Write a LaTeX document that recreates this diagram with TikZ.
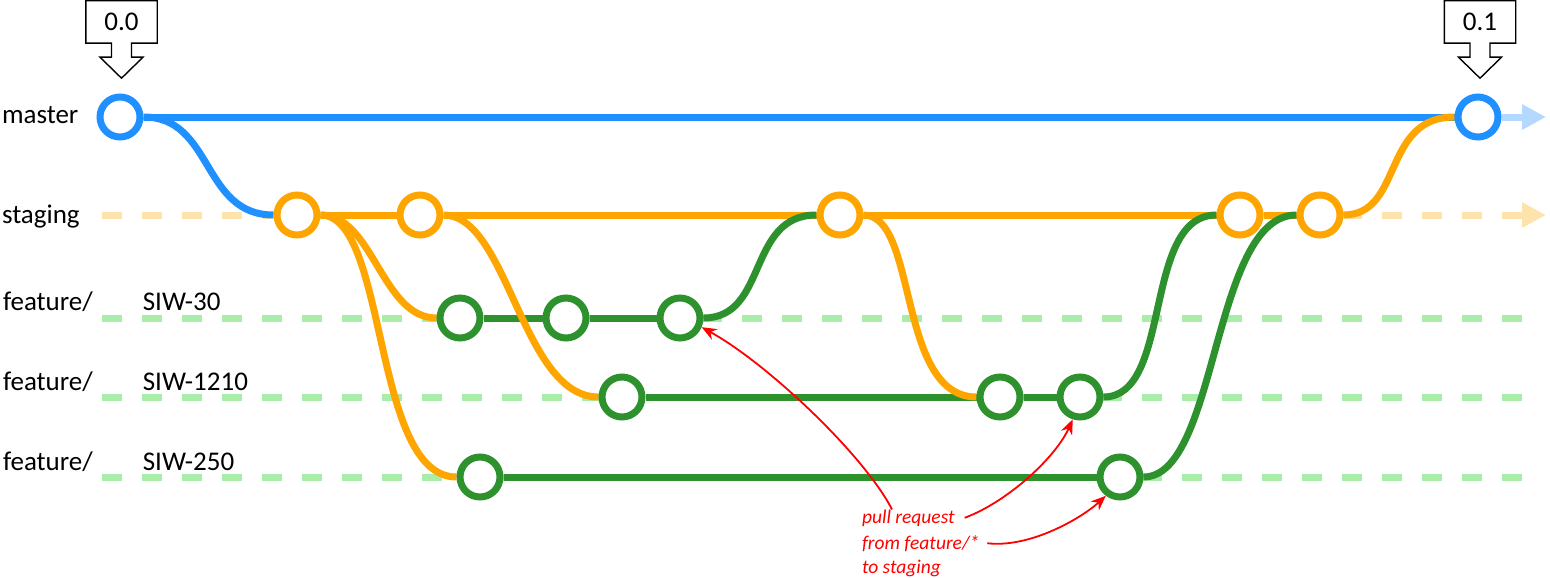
\documentclass[tikz,border=0pt]{standalone}
\usepackage{fontspec}
\setmainfont{Carlito}
\usetikzlibrary{calc, positioning, arrows.meta, backgrounds}

\definecolor{gitblue}{RGB}{30,144,255}
\definecolor{gitorange}{RGB}{255,165,0}
\definecolor{gitgreen}{RGB}{45,145,45}
\definecolor{laneblue}{RGB}{180,216,255}
\definecolor{laneorange}{RGB}{255,227,172}
\definecolor{lanegreen}{RGB}{168,238,168}
\definecolor{notered}{RGB}{255,0,0}

\tikzset{
    commit/.style={circle, minimum size=40pt, inner sep=0pt, line width=7pt, fill=white},
    commit_master/.style={commit, draw=gitblue},
    commit_staging/.style={commit, draw=gitorange},
    commit_feature/.style={commit, draw=gitgreen},
    branch_label/.style={anchor=base west, inner sep=0pt, outer sep=0pt, font=\fontsize{27}{31}\selectfont},
    tag_box/.style={rectangle, minimum width=71pt, minimum height=42pt, inner sep=0pt, font=\fontsize{27}{31}\selectfont},
    tag_line/.style={line width=1.4pt, line join=miter},
    master_line/.style={line width=7pt, draw=gitblue},
    staging_line/.style={line width=7pt, draw=gitorange},
    feature_line/.style={line width=7pt, draw=gitgreen},
    lane/.style={line width=7pt, dash pattern=on 20pt off 20pt},
    lane_arrow/.style={-{Triangle[length=24pt, width=24pt]}},
    note_text/.style={anchor=base west, inner sep=0pt, outer sep=0pt, text=notered, font=\fontsize{19.5}{24}\selectfont\itshape},
    note_arrow/.style={line width=1.8pt, draw=notered, -{Stealth[length=15pt, width=12pt]}},
}

\begin{document}
\begin{tikzpicture}[x=1pt, y=-1pt]
      \useasboundingbox (0,0) rectangle (1550,578);

      %%%%%%%%%%%%%%%%%%
      % Branch labels  %
      %%%%%%%%%%%%%%%%%%
      \node (lblmaster) [branch_label] at (2,123) {master};
      \node (lblstaging) [branch_label] at (2,223) {staging};
      \node (feat30) [branch_label] at (3,310) {feature/};
      \node (feat1210) [branch_label] at (3,390) {feature/};
      \node (feat250) [branch_label] at (3,470) {feature/};
      \node (siw30) [branch_label, right=50pt of feat30.base east, anchor=base west] {SIW-30};
      \node (siw1210) [branch_label, right=50pt of feat1210.base east, anchor=base west] {SIW-1210};
      \node (siw250) [branch_label, right=50pt of feat250.base east, anchor=base west] {SIW-250};

      %%%%%%%%%%%%%%%
      % Commits     %
      %%%%%%%%%%%%%%%
      \node (m0) [commit_master] at (120,117) {};
      \node (m1) [commit_master] at (1478,117) {};

      \node (s1) [commit_staging] at (297,215) {};
      \node (s2) [commit_staging] at (420,215) {};
      \node (s3) [commit_staging] at (840,215) {};
      \node (s4) [commit_staging] at (1240,215) {};
      \node (s5) [commit_staging] at (1320,215) {};

      \node (f30a) [commit_feature] at (460,318) {};
      \node (f30b) [commit_feature] at (566,318) {};
      \node (f30c) [commit_feature] at (680,318) {};

      \node (f1210a) [commit_feature] at (622,397) {};
      \node (f1210b) [commit_feature] at (1000,397) {};
      \node (f1210c) [commit_feature] at (1080,397) {};

      \node (f250a) [commit_feature] at (480,477) {};
      \node (f250b) [commit_feature] at (1120,477) {};

      \coordinate (staging_start) at (102,215);
      \coordinate (staging_end) at (1546,215);
      \coordinate (master_end) at (1546,117);
      \coordinate (lane30_start) at (102,318);
      \coordinate (lane30_end) at (1522,318);
      \coordinate (lane1210_start) at (102,397);
      \coordinate (lane1210_end) at (1522,397);
      \coordinate (lane250_start) at (102,477);
      \coordinate (lane250_end) at (1522,477);

      \begin{scope}[on background layer]
        % lanes
        \draw [lane, laneorange, lane_arrow] (staging_start) -- (staging_end);
        \draw [lane, lanegreen] (lane30_start) -- (lane30_end);
        \draw [lane, lanegreen] (lane1210_start) -- (lane1210_end);
        \draw [lane, lanegreen] (lane250_start) -- (lane250_end);
        \draw [line width=7pt, laneblue, lane_arrow] (m1.east) -- (master_end);

        % master
        \draw [master_line] (m0.east) -- (m1.west);
        \draw [master_line] (m0.east) .. controls +(70,0) and +(-72,0) .. (s1.west);

        % feature branches
        \draw [feature_line] (f30a.east) -- (f30b.west);
        \draw [feature_line] (f30b.east) -- (f30c.west);
        \draw [feature_line] (f1210a.east) -- (f1210b.west);
        \draw [feature_line] (f1210b.east) -- (f1210c.west);
        \draw [feature_line] (f250a.east) -- (f250b.west);

        % staging
        \draw [staging_line] (s1.east) -- (s2.west);
        \draw [staging_line] (s2.east) -- (s3.west);
        \draw [staging_line] (s3.east) -- (s4.west);
        \draw [staging_line] (s4.east) -- (s5.west);

        % branching off staging
        \draw [staging_line] (s1.east) .. controls +(53,0) and +(-55,0) .. (f30a.west);
        \draw [staging_line] (s1.east) .. controls +(68,0) and +(-85,0) .. (f250a.west);
        \draw [staging_line] (s2.east) .. controls +(65,0) and +(-77,0) .. (f1210a.west);
        \draw [staging_line] (s3.east) .. controls +(55,0) and +(-80,0) .. (f1210b.west);

        % merging into staging
        \draw [feature_line] (f30c.east) .. controls +(65,0) and +(-70,0) .. (s3.west);
        \draw [feature_line] (f1210c.east) .. controls +(70,0) and +(-75,0) .. (s4.west);
        \draw [feature_line] (f250b.east) .. controls +(75,0) and +(-85,0) .. (s5.west);

        % release
        \draw [staging_line] (s5.east) .. controls +(60,0) and +(-73,0) .. (m1.west);
      \end{scope}

      %%%%%%%%%%%%%%%
      % Version tags%
      %%%%%%%%%%%%%%%
      \node (ver00) [tag_box] at (121.5,22) {0.0};
      \draw [tag_line] ($(ver00.south)+(-10,0)$) -- (ver00.south west) -- (ver00.north west)
          -- (ver00.north east) -- (ver00.south east) -- ($(ver00.south)+(10,0)$)
          -- ++(0,14) -- ++(11.5,0) -- ++(-21.5,21) -- ++(-21.5,-21) -- ++(11.5,0) -- cycle;

      \node (ver01) [tag_box] at (1480,22) {0.1};
      \draw [tag_line] ($(ver01.south)+(-10,0)$) -- (ver01.south west) -- (ver01.north west)
          -- (ver01.north east) -- (ver01.south east) -- ($(ver01.south)+(10,0)$)
          -- ++(0,14) -- ++(11.5,0) -- ++(-21.5,21) -- ++(-21.5,-21) -- ++(11.5,0) -- cycle;

      %%%%%%%%%%%%%%%
      % Pull request%
      %%%%%%%%%%%%%%%
      \node (note_a) [note_text] at (862,523) {pull request};
      \node (note_b) [note_text] at (862,549) {from feature/*};
      \node (note_c) [note_text] at (862,573) {to staging};

      \draw [note_arrow] ([xshift=30pt]note_a.north west) .. controls +(-27,-53) and +(67,37) .. (f30c.-23);
      \draw [note_arrow] ([xshift=10pt]note_a.east) .. controls +(43,-16) and +(-17,38) .. (f1210c.-108);
      \draw [note_arrow] ([xshift=8pt]note_b.east) .. controls +(42,5) and +(-25,23) .. (f250b.-127);

\end{tikzpicture}
\end{document}
